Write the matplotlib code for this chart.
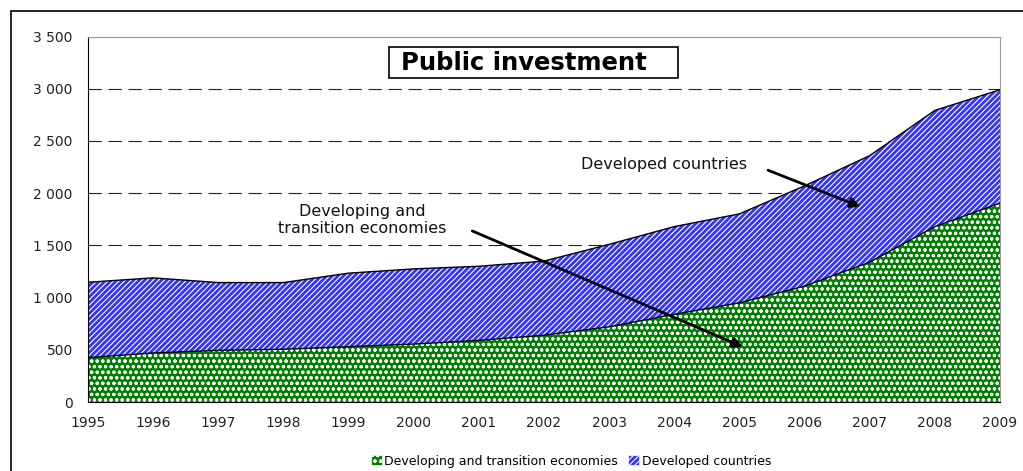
import matplotlib
matplotlib.use("Agg")
import matplotlib.pyplot as plt
from matplotlib.patches import Rectangle, Patch
import numpy as np

years = [1995, 1996, 1997, 1998, 1999, 2000, 2001, 2002, 2003, 2004, 2005, 2006, 2007, 2008, 2009]
developing = [425, 470, 495, 505, 530, 555, 590, 640, 720, 840, 950, 1110, 1340, 1680, 1905]
total = [1147, 1189, 1144, 1144, 1234, 1275, 1300, 1350, 1510, 1680, 1802, 2070, 2360, 2793, 2991]
yticks = [0, 500, 1000, 1500, 2000, 2500, 3000, 3500]

plt.rcParams['font.family'] = ['DejaVu Sans']
plt.rcParams['hatch.linewidth'] = 0.8

W, H = 1023, 471
fig = plt.figure(figsize=(W / 100, H / 100), dpi=100)
fig.patches.append(Rectangle((11 / W, -0.05), 1.2, 1 - 11 / H + 0.05, transform=fig.transFigure,
                             fill=False, edgecolor='black', linewidth=1.2))
ax = fig.add_axes([88 / W, 1 - 402 / H, (1000 - 88) / W, (402 - 36.6) / H])

x = np.array(years)
ax.fill_between(x, 0, developing, facecolor='#008000', edgecolor='white', hatch='ooo', linewidth=0, zorder=2)
ax.fill_between(x, developing, total, facecolor='#3333ff', edgecolor='white', hatch='//////', linewidth=0, zorder=2)
ax.plot(x, developing, color='black', lw=1, zorder=3)
ax.plot(x, total, color='black', lw=1, zorder=3)

ax.set_xlim(1995, 2009)
ax.set_ylim(0, 3500)
ax.set_xticks(years)
ax.set_xticklabels([str(y) for y in years])
ax.set_yticks(yticks)
ax.set_yticklabels([f"{v:,}".replace(",", " ") for v in yticks])
ax.tick_params(length=0, labelsize=10, colors='#222222')
ax.tick_params(axis='y', pad=11)
ax.tick_params(axis='x', pad=10)
for v in yticks[1:-1]:
    ax.axhline(v, color='#222222', lw=0.8, ls=(0, (12, 6)), zorder=1)
ax.spines['left'].set_color('black')
ax.spines['bottom'].set_color('black')
ax.spines['top'].set_color('#999999')
ax.spines['right'].set_color('#999999')

# title box
fig.patches.append(Rectangle((389 / W, 1 - 78 / H), (678 - 389) / W, (78 - 47) / H, transform=fig.transFigure,
                             facecolor='white', edgecolor='black', linewidth=1.2, zorder=5))
fig.text(524 / W, 1 - 63 / H, "Public investment", ha='center', va='center',
         fontsize=17.5, fontweight='bold', zorder=6)

ax.text(2003.84, 2272, "Developed countries", ha='center', va='center', fontsize=11.5, color='#111111')
ax.annotate("", xy=(2006.9, 1860), xytext=(2005.4, 2230),
            arrowprops=dict(arrowstyle='-|>', color='black', lw=2, mutation_scale=15))
ax.text(1999.21, 1745, "Developing and\ntransition economies", ha='center', va='center', fontsize=11.5,
        color='#111111', linespacing=1.15)
ax.annotate("", xy=(2005.09, 518), xytext=(2000.86, 1649),
            arrowprops=dict(arrowstyle='-|>', color='black', lw=2, mutation_scale=15))

handles = [Patch(facecolor='#008000', edgecolor='white', hatch='ooo', label='Developing and transition economies'),
           Patch(facecolor='#3333ff', edgecolor='white', hatch='//////', label='Developed countries')]
leg = fig.legend(handles=handles, loc='center', bbox_to_anchor=(571 / W, 1 - 461 / H), ncol=2,
                 frameon=False, fontsize=9, handlelength=0.9, handleheight=0.9, handletextpad=0.2,
                 columnspacing=0.8)
for h in leg.legend_handles:
    h.set_linewidth(0.5)

fig.savefig("out.png", dpi=100)
